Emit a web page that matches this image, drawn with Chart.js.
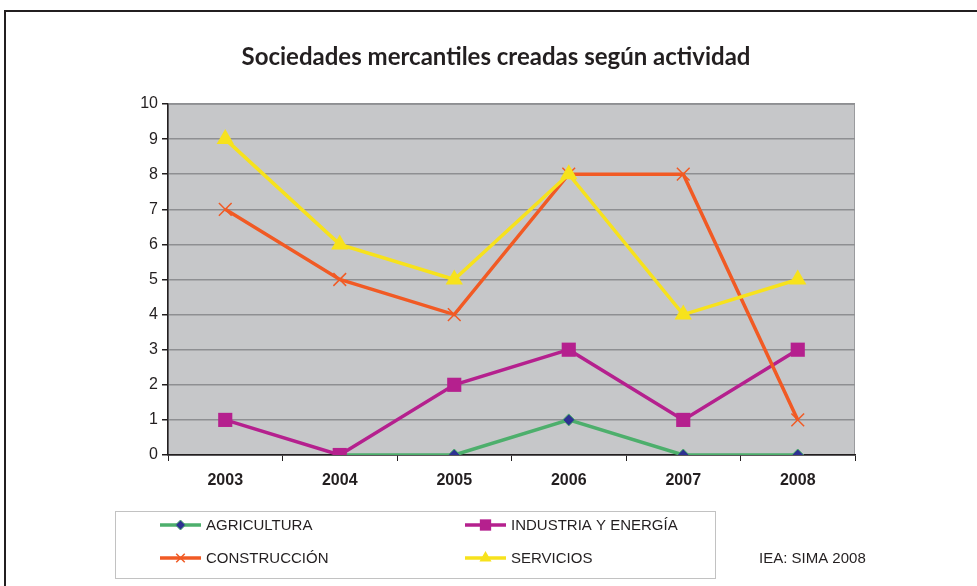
<!DOCTYPE html>
<html>
<head>
<meta charset="utf-8">
<script src="https://cdn.jsdelivr.net/npm/chart.js@4"></script>
<style>
  html, body { margin: 0; padding: 0; background: #fff; }
  #wrap { width: 977px; height: 586px; position: relative; }
</style>
</head>
<body>
<div id="wrap"><canvas id="myChart" width="977" height="586"></canvas></div>
<script>
// categories
const years = ['2003', '2004', '2005', '2006', '2007', '2008'];
// series values
const agricultura = [null, 0, 0, 1, 0, 0];
const industria = [1, 0, 2, 3, 1, 3];
const construccion = [7, 5, 4, 8, 8, 1];
const servicios = [9, 6, 5, 8, 4, 5];
// y ticks
const yMin = 0, yMax = 10, yStep = 1;

const chartTitle = 'Sociedades mercantiles creadas según actividad';
const sourceNote = 'IEA: SIMA 2008';

// frame, plot background and title
const decor = {
    id: 'decor',
    beforeDraw(chart) {
        const { ctx, chartArea: { left, top, width, height } } = chart;
        ctx.save();
        ctx.fillStyle = '#c6c7c9';
        ctx.fillRect(left, top, width, height);
        ctx.strokeStyle = '#9a9b9e';
        ctx.lineWidth = 1;
        ctx.strokeRect(left + 0.5, top + 0.5, width - 1, height);
        // outer frame
        ctx.strokeStyle = '#231f20';
        ctx.lineWidth = 2;
        ctx.strokeRect(5, 11, 1000, 600);
        // title
        ctx.fillStyle = '#231f20';
        ctx.font = 'bold 24px Lato, sans-serif';
        ctx.textAlign = 'center';
        ctx.textBaseline = 'middle';
        ctx.fillText(chartTitle, 496, 57);
        ctx.restore();
    }
};

// boxed two-column legend at the bottom
const boxLegend = {
    id: 'boxLegend',
    afterDraw(chart) {
        const { ctx } = chart;
        ctx.save();
        ctx.strokeStyle = '#c2c2c2';
        ctx.lineWidth = 1;
        ctx.strokeRect(115.5, 511.5, 600, 67);
        const slots = [[160, 525], [465, 525], [160, 558], [465, 558]];
        chart.data.datasets.forEach((ds, i) => {
            const [x, y] = slots[i];
            ctx.strokeStyle = ds.borderColor;
            ctx.lineWidth = ds.borderWidth;
            ctx.beginPath();
            ctx.moveTo(x, y);
            ctx.lineTo(x + 41, y);
            ctx.stroke();
            ctx.fillStyle = ds.pointBackgroundColor;
            ctx.strokeStyle = ds.pointBorderColor;
            ctx.lineWidth = ds.pointBorderWidth;
            Chart.helpers.drawPoint(ctx, {
                pointStyle: ds.pointStyle,
                radius: ds.legendRadius,
                rotation: 0,
                borderWidth: ds.pointBorderWidth
            }, x + 20.5, y);
            ctx.fillStyle = '#231f20';
            ctx.font = '15px "Liberation Sans", Arial, sans-serif';
            ctx.textAlign = 'left';
            ctx.textBaseline = 'middle';
            ctx.fillText(ds.label, x + 46, y + 1);
        });
        ctx.fillText(sourceNote, 759, 559);
        ctx.restore();
    }
};

const data = {
    labels: years,
    datasets: [{
        label: 'AGRICULTURA',
        data: agricultura,
        borderColor: '#4daf6c',
        borderWidth: 3.5,
        pointStyle: 'rectRot',
        pointRadius: 6,
        legendRadius: 5,
        pointBackgroundColor: '#2e3192',
        pointBorderColor: '#4daf6c',
        pointBorderWidth: 1,
        order: 3
    }, {
        label: 'INDUSTRIA Y ENERGÍA',
        data: industria,
        borderColor: '#b5208e',
        borderWidth: 3.5,
        pointStyle: 'rect',
        pointRadius: 10,
        legendRadius: 8,
        pointBackgroundColor: '#b5208e',
        pointBorderColor: '#b5208e',
        pointBorderWidth: 0,
        order: 2
    }, {
        label: 'CONSTRUCCIÓN',
        data: construccion,
        borderColor: '#f15a24',
        borderWidth: 3.5,
        pointStyle: 'crossRot',
        pointRadius: 9,
        legendRadius: 6,
        pointBackgroundColor: '#f15a24',
        pointBorderColor: '#f15a24',
        pointBorderWidth: 1.5,
        order: 1
    }, {
        label: 'SERVICIOS',
        data: servicios,
        borderColor: '#f7e21c',
        borderWidth: 3.5,
        pointStyle: 'triangle',
        pointRadius: 10,
        legendRadius: 7,
        pointBackgroundColor: '#f7e21c',
        pointBorderColor: '#f7e21c',
        pointBorderWidth: 0,
        order: 0
    }]
};

const config = {
    type: 'line',
    data: data,
    options: {
        responsive: false,
        animation: false,
        spanGaps: false,
        layout: { padding: { left: 128, right: 122, top: 104, bottom: 0 } },
        elements: { line: { tension: 0 } },
        scales: {
            x: {
                offset: true,
                grid: {
                    offset: true,
                    drawOnChartArea: false,
                    tickLength: 6,
                    tickColor: '#231f20'
                },
                border: { color: '#231f20', width: 1.5 },
                ticks: {
                    color: '#231f20',
                    font: { family: '"Liberation Sans", Arial, sans-serif', size: 16, weight: 'bold' },
                    padding: 10,
                    maxRotation: 0
                },
                afterFit(scale) { scale.height = 131; }
            },
            y: {
                min: yMin,
                max: yMax,
                grid: {
                    color: '#8e8f92',
                    lineWidth: 1.5,
                    tickLength: 6,
                    tickColor: '#231f20'
                },
                border: { color: '#231f20', width: 1.5 },
                ticks: {
                    stepSize: yStep,
                    color: '#231f20',
                    font: { family: '"Liberation Sans", Arial, sans-serif', size: 16 },
                    padding: 4
                },
                afterFit(scale) { scale.width = 40; }
            }
        },
        plugins: {
            legend: { display: false },
            title: { display: false },
            tooltip: { enabled: false }
        }
    },
    plugins: [decor, boxLegend]
};

const myChart = new Chart(document.getElementById('myChart'), config);
</script>
</body>
</html>
